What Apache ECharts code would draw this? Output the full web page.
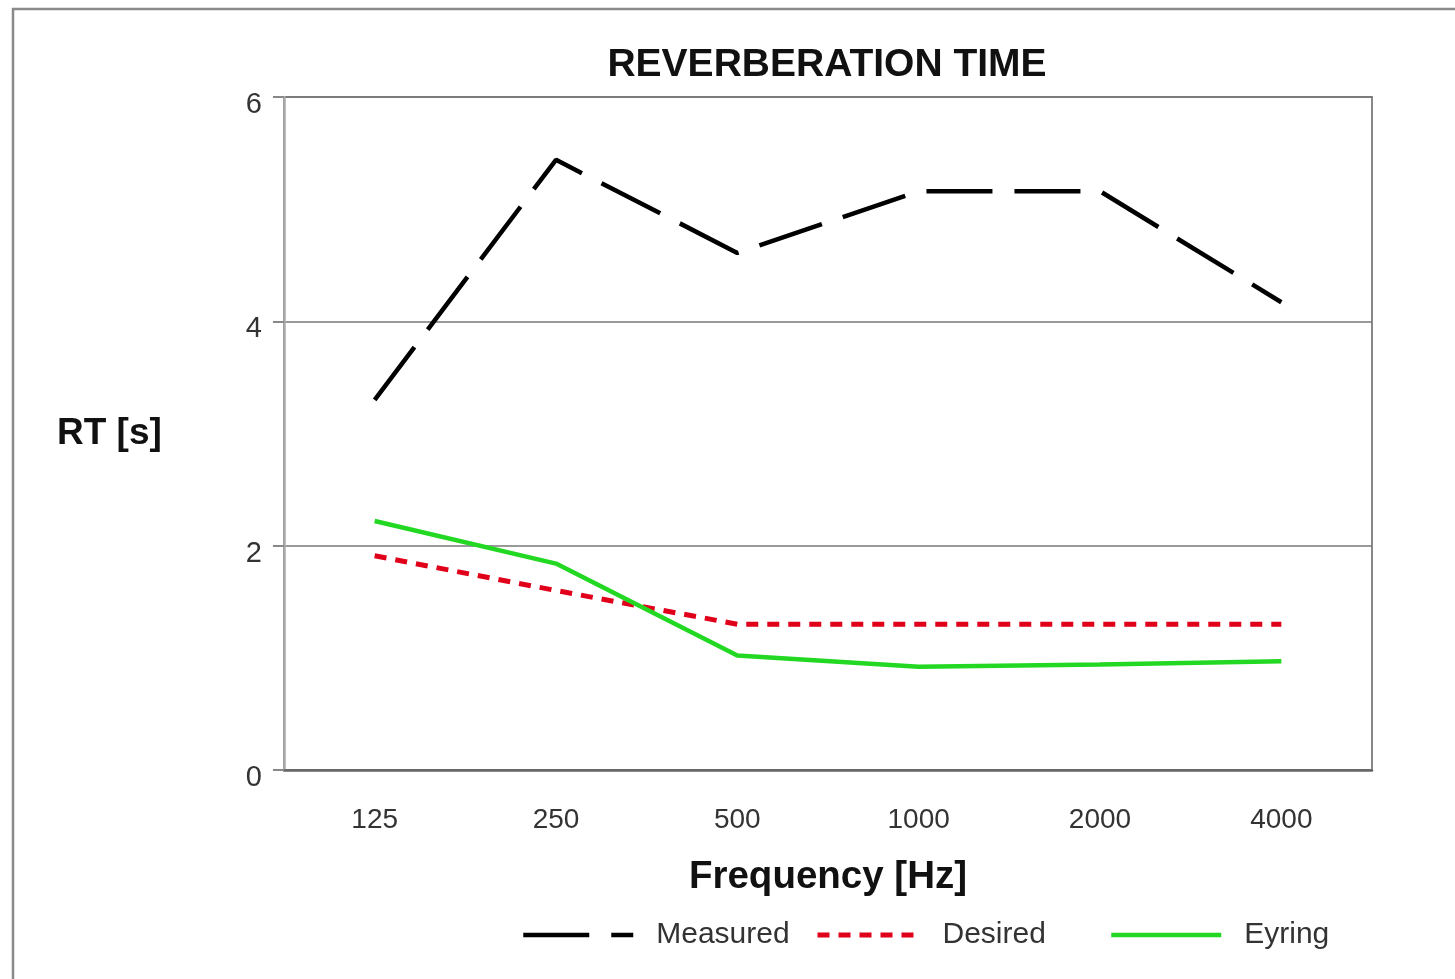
<!DOCTYPE html>
<html>
<head>
<meta charset="utf-8">
<script src="https://cdn.jsdelivr.net/npm/echarts@6/dist/echarts.min.js"></script>
<style>
html,body{margin:0;padding:0;background:#fff;}
#chart{width:1455px;height:979px;}
</style>
</head>
<body>
<div id="chart"></div>
<script>
var categories = ['125', '250', '500', '1000', '2000', '4000'];
var measured = [3.30, 5.44, 4.61, 5.16, 5.16, 4.17];
var desired = [1.91, 1.60, 1.30, 1.30, 1.30, 1.30];
var eyring = [2.22, 1.84, 1.02, 0.92, 0.94, 0.97];

var chart = echarts.init(document.getElementById('chart'));
var font = 'Liberation Sans, Arial, sans-serif';
var legendText = {fontFamily: font, fontSize: 30, color: '#333', padding: [0, 0, 0, 18]};
var measuredLine = {color: '#000', width: 4.5, type: [66, 22]};
var desiredLine = {color: '#e0001a', width: 5, type: [12, 9]};
var eyringLine = {color: '#22d822', width: 4.5, type: 'solid'};
chart.setOption({
  backgroundColor: '#fff',
  animation: false,
  title: {
    text: 'REVERBERATION TIME',
    left: 822, textAlign: 'center', top: 41,
    textStyle: {fontFamily: font, fontSize: 39, fontWeight: 'bold', color: '#111'}
  },
  graphic: [
    {type: 'rect', shape: {x: 13, y: 9, width: 1480, height: 1000},
     style: {fill: 'none', stroke: '#8a8a8a', lineWidth: 2.5}},
    {type: 'text', left: 57, top: 415,
     style: {text: 'RT [s]', font: 'bold 37px ' + font, fill: '#111'}}
  ],
  legend: [
    {data: ['Measured'], left: 516, top: 915, itemWidth: 110, itemHeight: 14, textStyle: legendText,
     itemStyle: {opacity: 0}, lineStyle: measuredLine},
    {data: ['Desired'], left: 810, top: 915, itemWidth: 102, itemHeight: 14, textStyle: legendText,
     itemStyle: {opacity: 0}, lineStyle: desiredLine},
    {data: ['Eyring'], left: 1104, top: 915, itemWidth: 110, itemHeight: 14, textStyle: legendText,
     itemStyle: {opacity: 0}, lineStyle: eyringLine}
  ],
  grid: {left: 284, right: 83, top: 97, bottom: 209, show: true, borderColor: '#888', borderWidth: 2, backgroundColor: 'transparent'},
  xAxis: {
    type: 'category',
    data: categories,
    boundaryGap: true,
    name: 'Frequency [Hz]',
    nameLocation: 'middle',
    nameGap: 88,
    nameTextStyle: {fontFamily: font, fontSize: 38.5, fontWeight: 'bold', color: '#111'},
    axisLine: {lineStyle: {color: '#666', width: 2.5}},
    axisTick: {inside: true, alignWithLabel: true, length: 11, lineStyle: {color: '#777', width: 2}},
    axisLabel: {fontFamily: font, fontSize: 28, color: '#333', margin: 36}
  },
  yAxis: {
    type: 'value',
    min: 0, max: 6, interval: 2,
    axisLine: {show: true, lineStyle: {color: '#aaa', width: 2.5}},
    axisTick: {show: true, length: 11, lineStyle: {color: '#888', width: 2}},
    axisLabel: {margin: 22, formatter: '{a|{value}}',
      rich: {a: {fontFamily: font, fontSize: 29, color: '#333', padding: [16, 0, 0, 0]}}},
    splitLine: {show: true, lineStyle: {color: '#777', width: 1.5}}
  },
  series: [
    {name: 'Measured', type: 'line', data: measured, symbol: 'none',
     lineStyle: measuredLine, itemStyle: {color: '#000'}},
    {name: 'Desired', type: 'line', data: desired, symbol: 'none',
     lineStyle: desiredLine, itemStyle: {color: '#e0001a'}},
    {name: 'Eyring', type: 'line', data: eyring, symbol: 'none',
     lineStyle: eyringLine, itemStyle: {color: '#22d822'}}
  ]
});
</script>
</body>
</html>
